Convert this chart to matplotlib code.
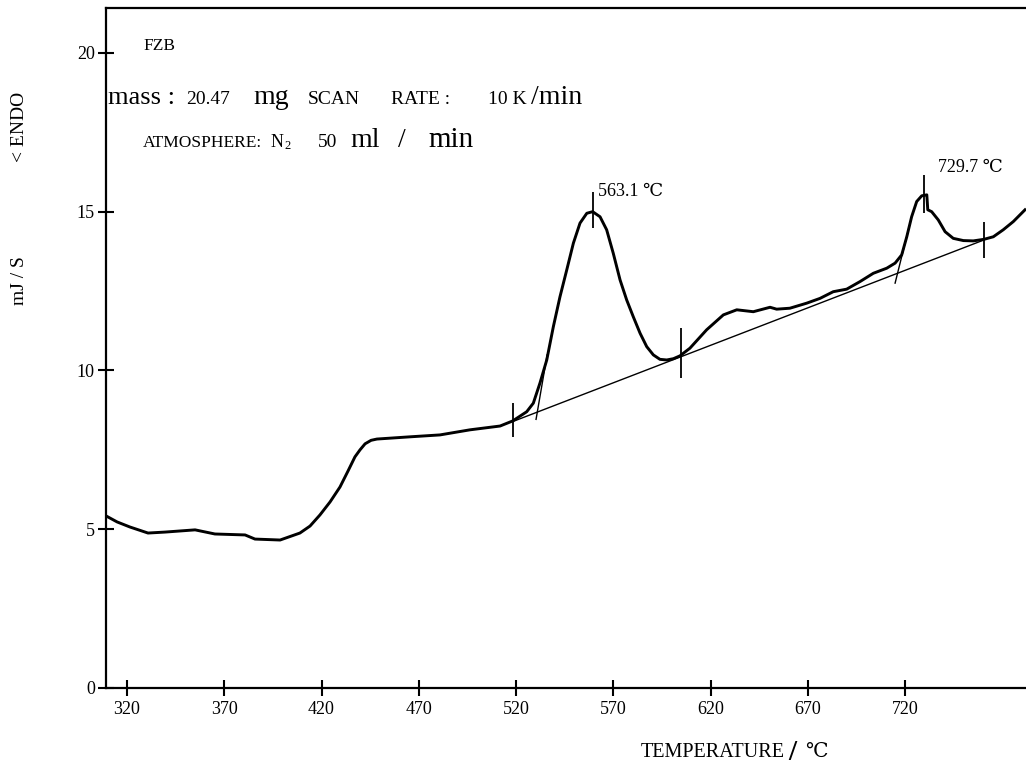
import matplotlib
matplotlib.use("Agg")
import matplotlib.pyplot as plt

# ---------------- data ----------------
temp = [309.2, 314.9, 321.5, 330.8, 339.5, 355.0, 365.2, 380.7, 385.8, 398.7,
        408.9, 414.1, 419.2, 424.4, 429.5, 433.6, 437.2, 439.8, 442.4, 445.5,
        448.5, 465.5, 480.9, 496.3, 511.8,
        518.3, 525.5, 528.9, 532.3, 535.8, 539.2, 542.6, 546.1, 549.5, 552.9,
        556.4, 559.4, 563.2, 566.6, 570.0, 573.5, 576.9, 580.3, 583.8, 587.2,
        590.6, 594.0, 597.5, 600.9, 604.3, 609.4, 618.0, 626.6, 633.5, 642.0,
        650.6, 654.0, 660.8, 669.5, 676.3, 683.1, 690.0, 696.9, 703.7, 710.6,
        714.9, 718.3, 720.9, 723.4, 726.0, 728.6, 731.2, 731.7, 733.7, 737.1,
        740.6, 744.8, 750.0, 755.1, 760.6, 765.4, 770.5, 775.7, 781.7]
heat = [5.42, 5.23, 5.07, 4.88, 4.91, 4.98, 4.85, 4.82, 4.69, 4.66,
        4.88, 5.10, 5.45, 5.86, 6.33, 6.83, 7.28, 7.50, 7.69, 7.80,
        7.84, 7.91, 7.97, 8.13, 8.25,
        8.41, 8.70, 8.97, 9.60, 10.33, 11.38, 12.32, 13.17, 14.01, 14.64,
        14.95, 15.00, 14.84, 14.43, 13.69, 12.85, 12.22, 11.69, 11.17, 10.75,
        10.49, 10.35, 10.33, 10.37, 10.46, 10.70, 11.28, 11.75, 11.91, 11.85,
        11.99, 11.93, 11.96, 12.12, 12.27, 12.48, 12.56, 12.80, 13.06, 13.22,
        13.38, 13.64, 14.21, 14.84, 15.32, 15.50, 15.53, 15.06, 15.00, 14.74,
        14.37, 14.16, 14.09, 14.08, 14.13, 14.21, 14.43, 14.69, 15.06]

baseline_t = [518.3, 760.6]
baseline_y = [8.39, 14.11]
tangent1_t = [530.3, 536.0]
tangent1_y = [8.46, 10.49]
tangent2_t = [714.9, 721.8]
tangent2_y = [12.75, 14.45]

mark_t = [518.3, 559.4, 604.7, 729.9, 760.6]
mark_lo = [7.91, 14.49, 9.76, 14.96, 13.54]
mark_hi = [8.98, 15.62, 11.34, 16.16, 14.68]

peak_labels = ["563.1 \u2103", "729.7 \u2103"]
peak_label_t = [562.2, 737.2]
peak_label_y = [15.5, 16.25]

xticks = [320, 370, 420, 470, 520, 570, 620, 670, 720]
yticks = [0, 5, 10, 15, 20]

# ---------------- figure ----------------
W, H = 1026, 770
fig = plt.figure(figsize=(W / 100, H / 100), dpi=100)
SERIF = ["Liberation Serif", "DejaVu Serif"]
plt.rcParams["font.family"] = SERIF


def fx(px):
    return px / W


def fy(py):
    return 1 - py / H


ax = fig.add_axes([fx(106), fy(688), 1 - fx(106), (688 - 7.5) / H])
ax.set_xlim(309.2, 782.2)
ax.set_ylim(0, 21.43)

ax.plot(temp, heat, color="black", lw=2.1, solid_joinstyle="round")
ax.plot(baseline_t, baseline_y, color="black", lw=1.0)
ax.plot(tangent1_t, tangent1_y, color="black", lw=1.0)
ax.plot(tangent2_t, tangent2_y, color="black", lw=1.0)
ax.vlines(mark_t, mark_lo, mark_hi, color="black", lw=1.3)

for lab, tt, y in zip(peak_labels, peak_label_t, peak_label_y):
    ax.text(tt, y, lab, fontsize=13, family=SERIF, ha="left", va="baseline")

ax.set_xticks(xticks)
ax.set_yticks(yticks)
ax.tick_params(direction="inout", length=12, width=1.5, labelsize=13, pad=3)
ax.tick_params(axis="y", pad=2)
for s in ["left", "bottom", "top"]:
    ax.spines[s].set_linewidth(1.6)
ax.spines["right"].set_visible(False)


# header texts
def t(px, py, s, size, **kw):
    fig.text(fx(px), fy(py), s, fontsize=size, family=SERIF, ha="left",
             va="baseline", **kw)


t(143, 50, "FZB", 12.5)
t(108, 104, "mass :", 19)
t(186, 104, "20.47", 14)
t(253, 104, "mg", 20)
t(308, 104, "SCAN", 14)
t(391, 104, "RATE :", 14)
t(488, 104, "10 K", 14)
t(531, 104, "/min", 20)
t(143, 147, "ATMOSPHERE:", 12.5)
t(271, 147, "N", 13)
t(284, 149, "2", 9)
t(318, 147, "50", 14)
t(350, 147, "ml", 20)
t(398, 147, "/", 20)
t(428, 147, "min", 21)

# axis labels
fig.text(fx(19), fy(127), "< ENDO", fontsize=14, family=SERIF, rotation=90,
         ha="center", va="center")
fig.text(fx(20), fy(281), "mJ / S", fontsize=14, family=SERIF, rotation=90,
         ha="center", va="center")
t(641, 757, "TEMPERATURE", 14.5)
t(788, 760, "/", 21, fontweight="bold")
t(805, 757, "\u2103", 14.5)

fig.savefig("out.png", dpi=100)
